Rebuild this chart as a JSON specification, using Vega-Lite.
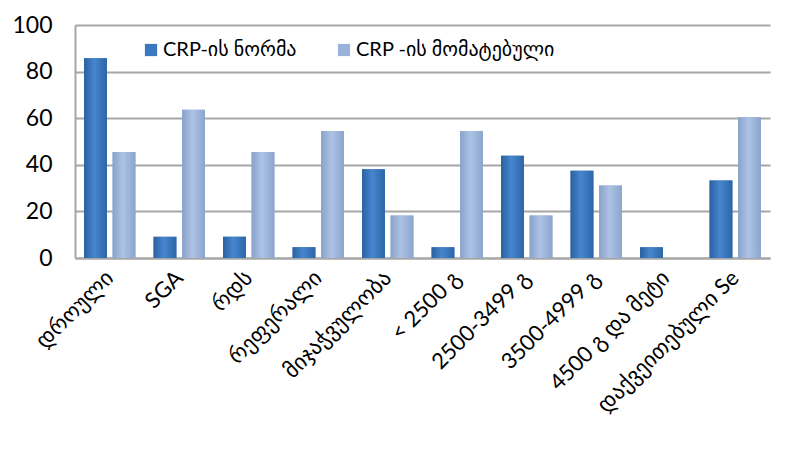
{
  "$schema": "https://vega.github.io/schema/vega-lite/v6.json",
  "width": 695,
  "height": 233,
  "autosize": "none",
  "padding": {"left": 75, "top": 25, "right": 20, "bottom": 193},
  "background": "white",
  "data": {
    "values": [
      {"cat": "დროული", "series": "CRP-ის ნორმა", "value": 85.7},
      {"cat": "დროული", "series": "CRP -ის მომატებული", "value": 45.5},
      {"cat": "SGA", "series": "CRP-ის ნორმა", "value": 9.1},
      {"cat": "SGA", "series": "CRP -ის მომატებული", "value": 63.6},
      {"cat": "რდს", "series": "CRP-ის ნორმა", "value": 9.1},
      {"cat": "რდს", "series": "CRP -ის მომატებული", "value": 45.5},
      {"cat": "რეფერალი", "series": "CRP-ის ნორმა", "value": 4.6},
      {"cat": "რეფერალი", "series": "CRP -ის მომატებული", "value": 54.5},
      {"cat": "მიჯაჭვულობა", "series": "CRP-ის ნორმა", "value": 38.1},
      {"cat": "მიჯაჭვულობა", "series": "CRP -ის მომატებული", "value": 18.2},
      {"cat": "< 2500 გ", "series": "CRP-ის ნორმა", "value": 4.6},
      {"cat": "< 2500 გ", "series": "CRP -ის მომატებული", "value": 54.5},
      {"cat": "2500-3499 გ", "series": "CRP-ის ნორმა", "value": 43.9},
      {"cat": "2500-3499 გ", "series": "CRP -ის მომატებული", "value": 18.2},
      {"cat": "3500-4999 გ", "series": "CRP-ის ნორმა", "value": 37.4},
      {"cat": "3500-4999 გ", "series": "CRP -ის მომატებული", "value": 31.1},
      {"cat": "4500 გ და მეტი", "series": "CRP-ის ნორმა", "value": 4.6},
      {"cat": "4500 გ და მეტი", "series": "CRP -ის მომატებული", "value": 0},
      {"cat": "დაქვეითებული Se", "series": "CRP-ის ნორმა", "value": 33.3},
      {"cat": "დაქვეითებული Se", "series": "CRP -ის მომატებული", "value": 60.4}
    ]
  },
  "encoding": {
    "x": {
      "field": "cat",
      "type": "nominal",
      "sort": null,
      "scale": {"paddingInner": 0.22, "paddingOuter": 0.11},
      "axis": {
        "title": null,
        "labelAngle": -45,
        "labelAlign": "right",
        "labelBaseline": "middle",
        "labelFontSize": 22,
        "labelFont": "Lato, DejaVu Sans",
        "labelColor": "#000000",
        "labelPadding": 16,
        "ticks": false,
        "domain": true,
        "domainColor": "#a6a6a6",
        "domainWidth": 2,
        "labelLimit": 300
      }
    },
    "xOffset": {
      "field": "series",
      "type": "nominal",
      "sort": ["CRP-ის ნორმა", "CRP -ის მომატებული"],
      "scale": {"domain": ["CRP-ის ნორმა", "CRP -ის მომატებული"], "paddingInner": 0.2, "paddingOuter": 0.05}
    },
    "y": {
      "field": "value",
      "type": "quantitative",
      "scale": {"domain": [0, 100], "nice": false},
      "axis": {
        "title": null,
        "values": [0, 20, 40, 60, 80, 100],
        "labelFontSize": 23,
        "labelFont": "Lato, DejaVu Sans",
        "labelColor": "#000000",
        "labelPadding": 23,
        "ticks": false,
        "domain": true,
        "domainColor": "#a6a6a6",
        "domainWidth": 2,
        "grid": true,
        "gridColor": "#a6a6a6",
        "gridWidth": 2
      }
    }
  },
  "layer": [
    {
      "mark": {"type": "bar"},
      "encoding": {
        "color": {
          "field": "series",
          "type": "nominal",
          "sort": ["CRP-ის ნორმა", "CRP -ის მომატებული"],
          "scale": {"domain": ["CRP-ის ნორმა", "CRP -ის მომატებული"], "range": ["#3a78c0", "#9ab1d8"]},
          "legend": {
            "title": null,
            "orient": "none",
            "direction": "horizontal",
            "legendX": 66,
            "legendY": 15,
            "symbolType": "square",
            "symbolSize": 150,
            "symbolStrokeWidth": 0,
            "labelFontSize": 20,
            "labelFont": "Lato, DejaVu Sans",
            "labelColor": "#000000",
            "labelLimit": 400,
            "columnPadding": 37,
            "symbolOffset": 0,
            "labelOffset": 2
          }
        }
      }
    },
    {
      "transform": [{"filter": "datum.series === 'CRP-ის ნორმა'"}],
      "mark": {
        "type": "bar",
        "fill": {"gradient": "linear", "x1": 0, "y1": 0, "x2": 1, "y2": 0, "stops": [{"offset": 0, "color": "#2b619f"}, {"offset": 0.45, "color": "#4686cf"}, {"offset": 1, "color": "#2d65a6"}]}
      }
    },
    {
      "transform": [{"filter": "datum.series === 'CRP -ის მომატებული'"}],
      "mark": {
        "type": "bar",
        "fill": {"gradient": "linear", "x1": 0, "y1": 0, "x2": 1, "y2": 0, "stops": [{"offset": 0, "color": "#8aa2c9"}, {"offset": 0.45, "color": "#acc3e5"}, {"offset": 1, "color": "#8ca5cd"}]}
      }
    }
  ],
  "config": {
    "view": {"stroke": null}
  }
}
